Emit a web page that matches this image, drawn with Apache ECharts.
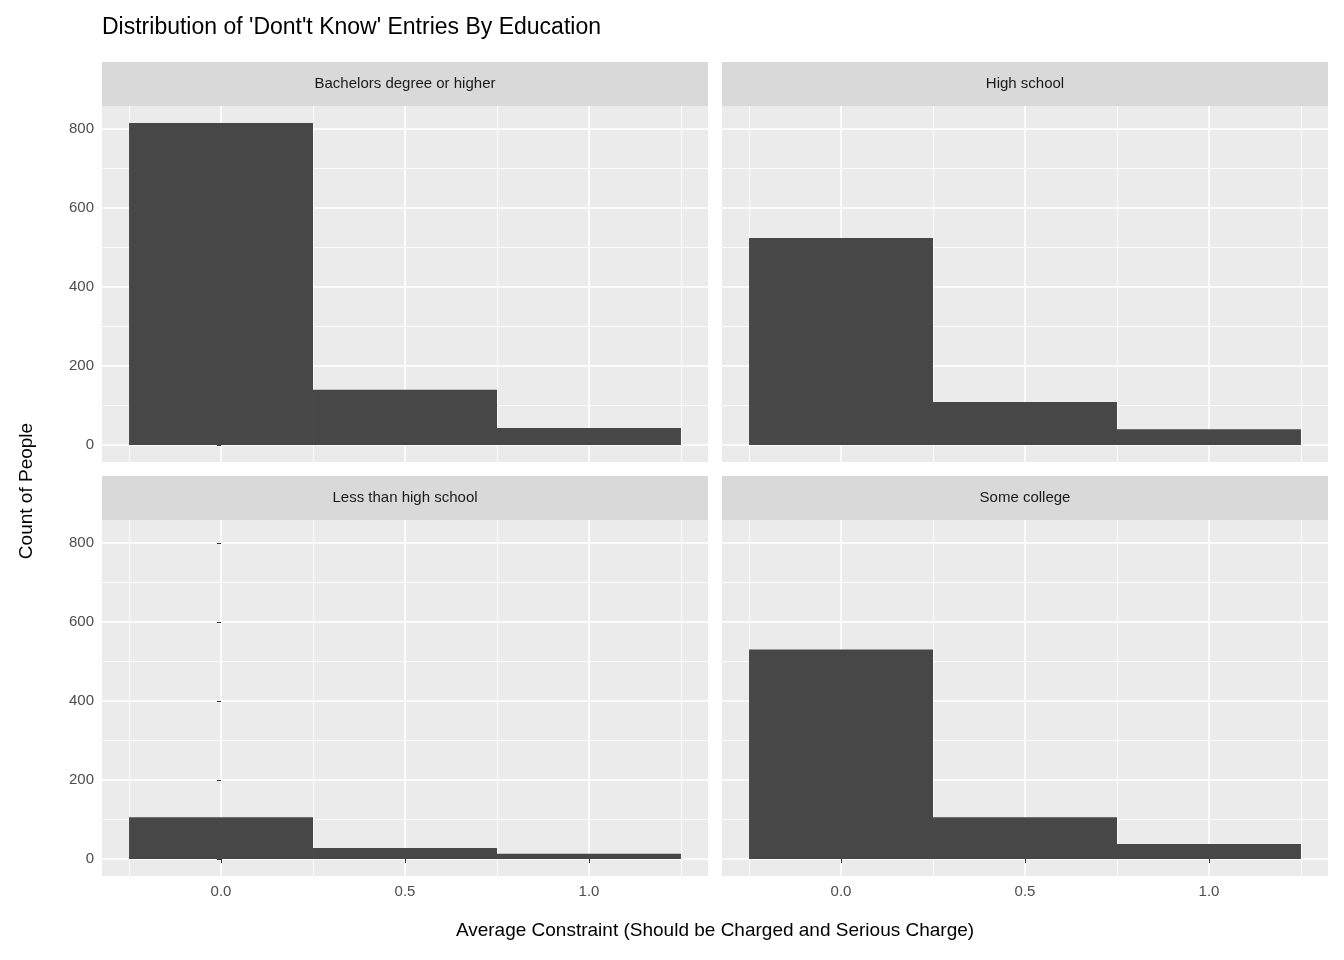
<!DOCTYPE html>
<html><head><meta charset="utf-8">
<script src="https://cdn.jsdelivr.net/npm/echarts@6/dist/echarts.min.js"></script>
<style>html,body{margin:0;padding:0;background:#fff}#c{width:1344px;height:960px}</style>
</head><body><div id="c"></div>
<script>
var panels = ['Bachelors degree or higher', 'High school', 'Less than high school', 'Some college'];
var binStarts = [-0.25, 0.25, 0.75];
var binWidth = 0.5;
var counts = [
  [815, 140, 43],
  [524, 109, 40],
  [106, 28, 13],
  [530, 106, 38]
];
var xTicks = [0, 0.5, 1];
var xMinor = [-0.25, 0.25, 0.75, 1.25];
var yTicks = [0, 200, 400, 600, 800];
var yMinor = [100, 300, 500, 700];

var chart = echarts.init(document.getElementById('c'));
var font = 'Helvetica, Arial, "Liberation Sans", sans-serif';
var pos = [[102, 106], [722, 106], [102, 520], [722, 520]];
var grids = [], xAxes = [], yAxes = [], series = [], graphics = [];

panels.forEach(function (name, i) {
  var p = pos[i];
  grids.push({left: p[0], top: p[1], width: 606, height: 356, show: true, backgroundColor: '#ebebeb', borderWidth: 0});
  var showX = i >= 2, showY = i % 2 === 0;
  xAxes.push({
    type: 'value', gridIndex: i, min: -0.3235, max: 1.3235,
    axisLine: {show: false},
    axisTick: {show: showX, customValues: xTicks, length: 4, lineStyle: {color: '#333'}},
    axisLabel: {show: showX, customValues: xTicks, color: '#4d4d4d', fontSize: 15, fontFamily: font, margin: 8,
      formatter: function (v) { return v.toFixed(1); }},
    splitLine: {show: true, lineStyle: {color: '#fff', width: 1.6}}
  });
  yAxes.push({
    type: 'value', gridIndex: i, min: -43, max: 858,
    axisLine: {show: false},
    axisTick: {show: showY, customValues: yTicks, length: 4, lineStyle: {color: '#333'}},
    axisLabel: {show: showY, customValues: yTicks, color: '#4d4d4d', fontSize: 15, fontFamily: font, margin: 8},
    splitLine: {show: true, lineStyle: {color: '#fff', width: 1.6}}
  });
  var minorLines = xMinor.map(function (v) { return {xAxis: v}; })
    .concat(yMinor.map(function (v) { return {yAxis: v}; }));
  series.push({
    type: 'custom', xAxisIndex: i, yAxisIndex: i, silent: true,
    data: binStarts.map(function (s, k) { return [s, s + binWidth, counts[i][k]]; }),
    renderItem: function (params, api) {
      var a = api.coord([api.value(0), api.value(2)]);
      var b = api.coord([api.value(1), 0]);
      return {type: 'rect', shape: {x: a[0], y: a[1], width: b[0] - a[0], height: b[1] - a[1]},
        style: {fill: '#474747'}};
    },
    markLine: {silent: true, symbol: 'none', label: {show: false}, z: 1,
      lineStyle: {color: '#fff', width: 0.8, type: 'solid'}, data: minorLines},
    z: 3
  });
  graphics.push({type: 'rect', left: p[0], top: p[1] - 44, shape: {width: 606, height: 44}, style: {fill: '#d9d9d9'}});
  graphics.push({type: 'text', x: p[0] + 303, y: p[1] - 22,
    style: {text: name, fill: '#1a1a1a', font: '15px ' + font, align: 'center', verticalAlign: 'middle'}});
});

graphics.push({type: 'text', x: 102, y: 28, style: {text: "Distribution of 'Dont't Know' Entries By Education",
  fill: '#000', font: '23px ' + font, verticalAlign: 'middle'}});
graphics.push({type: 'text', x: 715, y: 931, style: {text: 'Average Constraint (Should be Charged and Serious Charge)',
  fill: '#000', font: '19px ' + font, align: 'center', verticalAlign: 'middle'}});
graphics.push({type: 'text', x: 27, y: 491, rotation: Math.PI / 2, style: {text: 'Count of People',
  fill: '#000', font: '19px ' + font, align: 'center', verticalAlign: 'middle'}});

chart.setOption({
  animation: false,
  grid: grids, xAxis: xAxes, yAxis: yAxes, series: series, graphic: graphics
});
</script></body></html>
